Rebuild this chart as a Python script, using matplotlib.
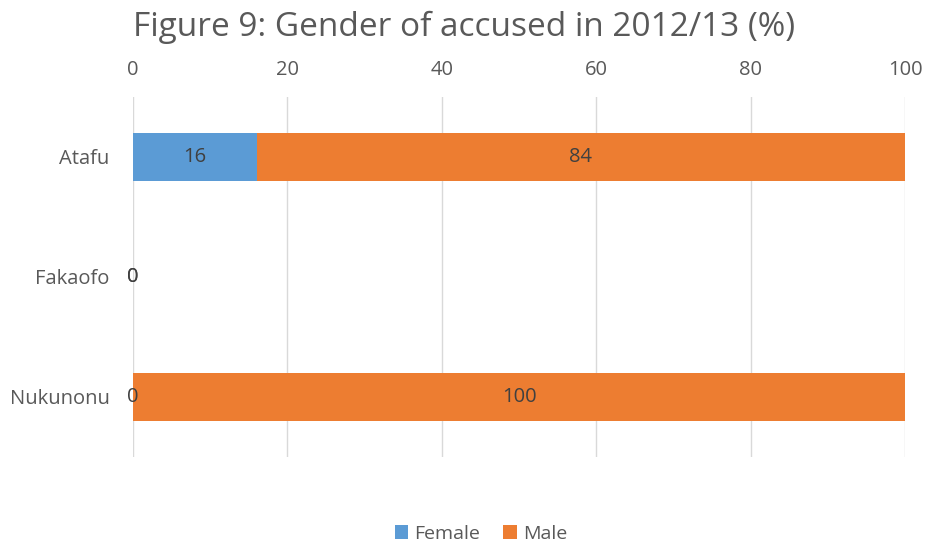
import numpy as np
import matplotlib.pyplot as plt

plt.rcParams['font.family'] = ['Open Sans', 'DejaVu Sans']

categories = ['Atafu', 'Fakaofo', 'Nukunonu']
female = [16, 0, 0]
male = [84, 0, 100]
ticks = [0, 20, 40, 60, 80, 100]

BLUE = '#5B9BD5'
ORANGE = '#ED7D31'
GRID = '#D9D9D9'
TXT = '#595959'

fig = plt.figure(figsize=(9.28, 5.46), dpi=100)
ax = fig.add_axes([133 / 928, 1 - 457 / 546, (905 - 133) / 928, 360 / 546])

y = np.arange(len(categories))
ax.barh(y, female, height=0.4, color=BLUE, label='Female', zorder=2)
ax.barh(y, male, left=female, height=0.4, color=ORANGE, label='Male', zorder=2)

for i in range(len(categories)):
    ax.text(female[i] / 2, y[i], str(female[i]), ha='center', va='center',
            fontsize=14.5, color='#404040', zorder=3)
    ax.text(female[i] + male[i] / 2, y[i], str(male[i]), ha='center', va='center',
            fontsize=14.5, color='#404040', zorder=3)

ax.set_xlim(0, 100)
ax.set_ylim(2.5, -0.5)
ax.set_xticks(ticks)
ax.xaxis.tick_top()
ax.tick_params(axis='x', length=0, labelsize=14.5, labelcolor=TXT, pad=12)
ax.set_yticks(y)
ax.set_yticklabels(categories)
ax.tick_params(axis='y', length=0, labelsize=14.5, labelcolor=TXT, pad=17)
ax.grid(axis='x', color=GRID, linewidth=1, zorder=0)
for s in ax.spines.values():
    s.set_visible(False)

fig.text(0.5, 1 - 27 / 546, 'Figure 9: Gender of accused in 2012/13 (%)', ha='center',
         va='center', fontsize=24, color=TXT)

fig.legend(loc='center', bbox_to_anchor=(0.518, 1 - 534 / 546), ncol=2, frameon=False,
           fontsize=14, labelcolor=TXT, handlelength=0.7, handleheight=0.7,
           handletextpad=0.3, columnspacing=1.2)

fig.savefig('out.png', dpi=100)
